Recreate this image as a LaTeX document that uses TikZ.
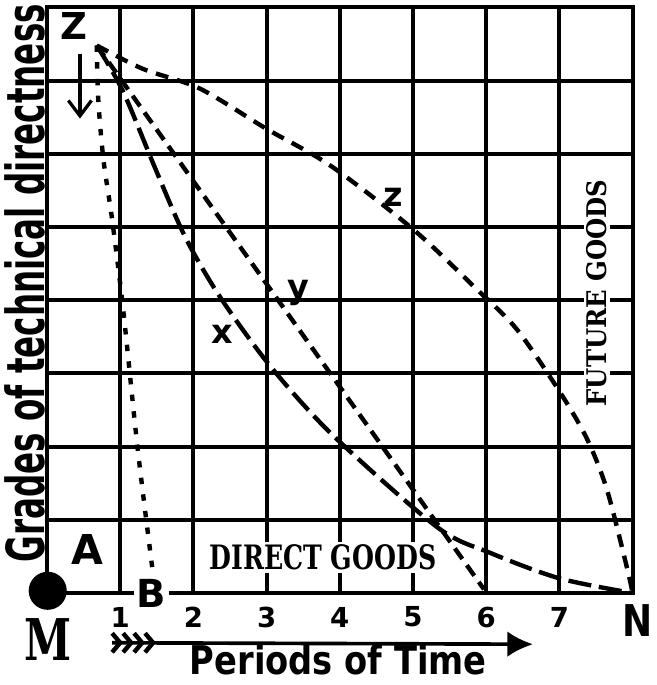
\documentclass[tikz,border=0pt]{standalone}
\usepackage{fontspec}
\newfontfamily\handfont{DejaVu Sans}
\newfontfamily\slabfont{DejaVu Serif}
\usetikzlibrary{arrows.meta}

\begin{document}
\begin{tikzpicture}[
    gridline/.style={line width=0.055cm},
    bcurve/.style={line width=0.06cm, dash pattern=on 2.5pt off 4pt},
    xcurve/.style={line width=0.06cm, dash pattern=on 9pt off 3pt},
    ycurve/.style={line width=0.06cm, dash pattern=on 5pt off 3pt},
    zcurve/.style={line width=0.06cm, dash pattern=on 5pt off 3.5pt},
    letter/.style={font=\handfont\bfseries\fontsize{#1}{#1}\selectfont},
    boxtext/.style={fill=white, inner sep=1pt},
  ]
  \useasboundingbox (-0.642,-1.257) rectangle (8.333,8.101);

  % Drawing grid 8 x 8
  \foreach \i in {1,...,7} {
    \draw [gridline] (\i,0) -- (\i,8);%
    \draw [gridline] (0,\i) -- (8,\i);%
  }
  \draw [gridline] (0,0) rectangle (8,8);%

  % Marking point M by dot
  \node [circle, fill, inner sep=0pt, minimum size=0.52cm] (Mdot) at (0.01,0.03) {};%

  % Points where the curves start and end
  \coordinate (Z) at (0.68,7.48);
  \coordinate (Bend) at (1.45,0.25);
  \coordinate (six) at (5.97,0.05);
  \coordinate (N) at (8.00,0.00);

  % Drawing curve Z B
  \draw [bcurve] plot [smooth] coordinates {(Z) (0.70,6.75) (0.77,5.93) (0.89,5.10) (1.04,3.88) (1.24,1.96) (Bend)};%

  % Drawing curve x
  \draw [xcurve] plot [smooth] coordinates {(Z) (1.04,6.85) (1.50,5.75) (1.89,4.86) (2.36,4.05) (3.05,3.10) (3.91,2.15) (5.33,0.90) (6.05,0.55) (7.00,0.20) (N)};%

  % Drawing line y
  \draw [ycurve] (Z) -- (six);%

  % Drawing curve z
  \draw [zcurve] plot [smooth] coordinates {(Z) (1.31,7.16) (2.09,6.89) (3.00,6.34) (3.87,5.84) (5.00,4.97) (5.87,4.15) (6.42,3.60) (7.01,2.74) (7.38,2.10) (7.65,1.41) (7.92,0.36) (N)};%

  % Marking point Z and its arrow
  \node [letter=14.4] (Zlabel) at (0.37,7.74) {Z};%
  \coordinate (zfrom) at (0.45,7.37);
  \coordinate (zto) at (0.45,6.48);
  \draw [line width=0.045cm, -{Straight Barb[length=6pt,width=9pt]}] (zfrom) -- (zto);%

  % Marking points A, B, M, N
  \node [letter=16] (Alabel) at (0.55,0.59) {A};%
  \node [letter=15, boxtext] (Blabel) at (1.43,-0.01) {B};%
  \node (Mlabel) at (0.01,-0.64) {\resizebox{18.3pt}{16.3pt}{\slabfont\bfseries M}};%
  \node (Nlabel) at (8.07,-0.38) {\resizebox{11.7pt}{12.4pt}{\handfont\bfseries N}};%

  % Marking periods 1 ... 7
  \foreach \n in {1,...,7}
    \node [letter=10.7] (t\n) at (\n,-0.33) {\n};%

  % Marking curves x, y, z
  \node [letter=13] (xlabel) at (2.39,3.53) {x};%
  \node [letter=13] (ylabel) at (3.43,4.10) {y};%
  \node [letter=13] (zlabel) at (4.73,5.41) {z};%

  % Marking direct and future goods
  \node [boxtext, anchor=base] (direct) at (3.77,0.32) {\resizebox{88.2pt}{9.7pt}{\slabfont\bfseries DIRECT GOODS}};%
  \node [boxtext, anchor=base, rotate=90] (future) at (7.65,4.10) {\resizebox{88.2pt}{7.8pt}{\slabfont\bfseries FUTURE GOODS}};%

  % Marking axis titles
  \node [rotate=90] (grades) at (-0.30,4.23) {\resizebox{217pt}{15.5pt}{\handfont\bfseries Grades of technical directness}};%
  \node (periods) at (3.98,-0.915) {\resizebox{115.4pt}{11.7pt}{\handfont\bfseries Periods of Time}};%

  % Drawing time arrow with feathered tail
  \coordinate (ttail) at (0.89,-0.68);
  \coordinate (thead) at (6.64,-0.70);
  \draw [line width=0.05cm, -{Latex[length=10pt,width=10pt]}] (ttail) -- (thead);%
  \foreach \f in {0.00,0.15,0.30,0.45}
    \draw [line width=0.06cm] ([shift={(\f,0.13)}]ttail) -- ([shift={(\f+0.11,0)}]ttail) -- ([shift={(\f,-0.13)}]ttail);%
\end{tikzpicture}
\end{document}
